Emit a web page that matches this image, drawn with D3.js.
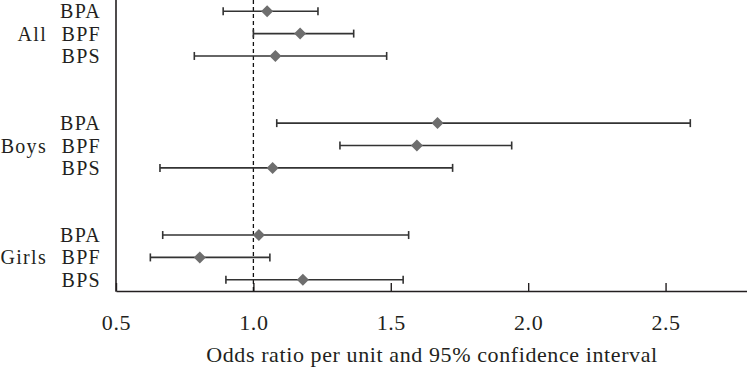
<!DOCTYPE html>
<html>
<head>
<meta charset="utf-8">
<script src="https://cdn.jsdelivr.net/npm/d3@7"></script>
<style>
  html, body { margin: 0; padding: 0; background: #fff; }
  svg text { font-family: "Liberation Serif", "DejaVu Serif", serif; fill: #231f20; letter-spacing: 0.6px; }
  svg text.row { letter-spacing: 1.3px; }
</style>
</head>
<body>
<div id="chart"></div>
<script>
// Groups and exposures (rows, top to bottom)
const groups = ["All", "Boys", "Girls"];
const compounds = ["BPA", "BPF", "BPS"];

// Odds ratios and 95% CI, one array per group, order BPA, BPF, BPS
const orAll = [1.05, 1.17, 1.08];
const loAll = [0.89, 1.00, 0.785];
const hiAll = [1.235, 1.365, 1.485];

const orBoys = [1.67, 1.595, 1.07];
const loBoys = [1.085, 1.315, 0.66];
const hiBoys = [2.59, 1.94, 1.725];

const orGirls = [1.02, 0.805, 1.18];
const loGirls = [0.67, 0.625, 0.90];
const hiGirls = [1.565, 1.06, 1.545];

const xTicks = [0.5, 1.0, 1.5, 2.0, 2.5];
const xTitle = "Odds ratio per unit and 95% confidence interval";

const width = 747, height = 369;
const margin = { left: 116, right: 0, top: 0, axisY: 291 };
const fontSize = 22;
const rowFontSize = 20;

// build rows
const series = [
  [orAll, loAll, hiAll],
  [orBoys, loBoys, hiBoys],
  [orGirls, loGirls, hiGirls]
];
const rows = [];
groups.forEach((g, gi) => {
  compounds.forEach((c, ci) => {
    rows.push({
      group: g, compound: c, slot: gi * 5 + ci,
      or: series[gi][0][ci], lo: series[gi][1][ci], hi: series[gi][2][ci]
    });
  });
});

const x = d3.scaleLinear().domain([0.5, 2.8]).range([margin.left, 748]);
// 13 slots (3 rows + 2 blank per group), half a slot padding at each end
const y = d3.scaleLinear().domain([-0.5, 12.5]).range([0, margin.axisY]);

const svg = d3.select("#chart").append("svg")
  .attr("width", width).attr("height", height);

// x axis with inward ticks
const xAxis = svg.append("g")
  .attr("transform", `translate(0,${margin.axisY})`)
  .call(d3.axisBottom(x).tickValues(xTicks).tickFormat(d3.format(".1f")).tickSizeInner(-8).tickSizeOuter(0).tickPadding(23));
xAxis.select(".domain").attr("stroke", "#231f20").attr("stroke-width", 1.6);
xAxis.selectAll(".tick line").attr("stroke", "#231f20").attr("stroke-width", 1.4);
xAxis.selectAll(".tick text").attr("font-size", fontSize).attr("fill", "#231f20")
  .attr("font-family", "Liberation Serif, serif");

// y axis line
svg.append("line")
  .attr("x1", x(0.5)).attr("x2", x(0.5))
  .attr("y1", 0).attr("y2", margin.axisY + 0.8)
  .attr("stroke", "#231f20").attr("stroke-width", 1.6);

// reference line at OR = 1
svg.append("line")
  .attr("x1", x(1)).attr("x2", x(1))
  .attr("y1", 0).attr("y2", margin.axisY)
  .attr("stroke", "#111").attr("stroke-width", 1.3)
  .attr("stroke-dasharray", "4,3");

// error bars
const bars = svg.append("g").selectAll("g").data(rows).join("g")
  .attr("transform", (d) => `translate(0,${y(d.slot)})`);
bars.append("line")
  .attr("x1", (d) => x(d.lo)).attr("x2", (d) => x(d.hi))
  .attr("stroke", "#333").attr("stroke-width", 1.6);
bars.append("line")
  .attr("x1", (d) => x(d.lo)).attr("x2", (d) => x(d.lo))
  .attr("y1", -4).attr("y2", 4)
  .attr("stroke", "#333").attr("stroke-width", 1.6);
bars.append("line")
  .attr("x1", (d) => x(d.hi)).attr("x2", (d) => x(d.hi))
  .attr("y1", -4).attr("y2", 4)
  .attr("stroke", "#333").attr("stroke-width", 1.6);
bars.append("path")
  .attr("d", d3.symbol().type(d3.symbolSquare).size(72))
  .attr("transform", (d) => `translate(${x(d.or)},0) rotate(45)`)
  .attr("fill", "#6e6e6e");

// row labels
svg.append("g").selectAll("text").data(rows).join("text")
  .attr("class", "row")
  .attr("x", 101).attr("y", (d) => y(d.slot))
  .attr("dy", "0.35em").attr("text-anchor", "end")
  .attr("font-size", rowFontSize).text((d) => d.compound);

// group labels
svg.append("g").selectAll("text").data(groups).join("text")
  .attr("class", "row")
  .attr("x", 47).attr("y", (d, i) => y(i * 5 + 1))
  .attr("dy", "0.35em").attr("text-anchor", "end")
  .attr("font-size", rowFontSize).text((d) => d);

// x title
svg.append("text")
  .attr("x", (x.range()[0] + x.range()[1]) / 2).attr("y", 362)
  .attr("text-anchor", "middle").attr("font-size", fontSize)
  .text(xTitle);
</script>
</body>
</html>
